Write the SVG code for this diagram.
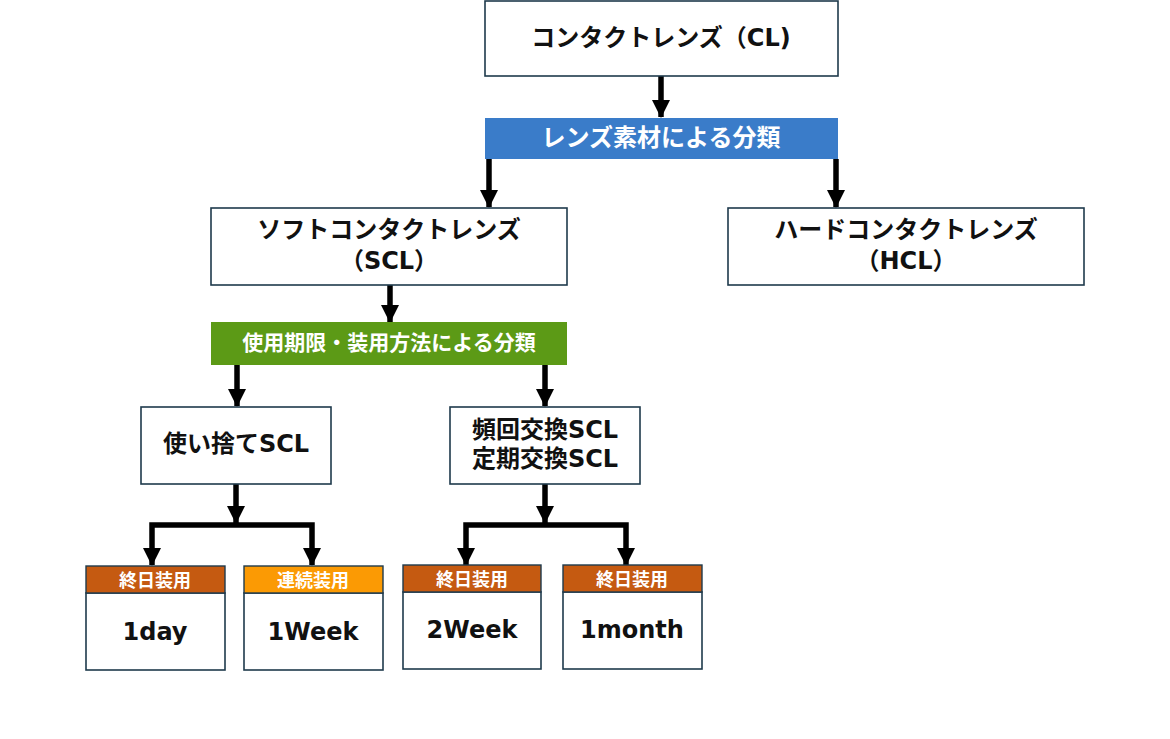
<svg xmlns="http://www.w3.org/2000/svg" width="1170" height="739" viewBox="0 0 1170 739">
<style>
.box{fill:#fff;stroke:#1f3a4c;stroke-width:1.6}
.t{font-family:"DejaVu Sans","Noto Sans CJK JP",sans-serif;font-weight:bold;fill:#111;text-anchor:middle;dominant-baseline:central}
.w{fill:#fff}
.ln{fill:none;stroke:#000;stroke-width:5.5;marker-end:url(#ah)}
.hb{fill:#c55a11;stroke:#1f3a4c;stroke-width:1.4}
.ho{fill:#fb9a04;stroke:#1f3a4c;stroke-width:1.4}
</style>
<defs>
<marker id="ah" markerUnits="userSpaceOnUse" markerWidth="18" markerHeight="18" viewBox="0 0 18 18" refX="17" refY="9" orient="auto">
<path d="M0 0L18 9L0 18Z" fill="#000"/>
</marker>
</defs>
<rect width="1170" height="739" fill="#fff"/>
<g id="connectors">
<path class="ln" d="M661 76V117"/>
<path class="ln" d="M489 159V207"/>
<path class="ln" d="M836 159V207"/>
<path class="ln" d="M390 285V322"/>
<path class="ln" d="M237 365V406"/>
<path class="ln" d="M545 365V406"/>
<path class="ln" d="M236 484V523"/>
<path class="ln" d="M236 525H152V565"/>
<path class="ln" d="M236 525H312V565"/>
<path class="ln" d="M545 484V523"/>
<path class="ln" d="M545 525H466V565"/>
<path class="ln" d="M545 525H626V565"/>
</g>
<g id="cl">
<rect class="box" x="485" y="1" width="353" height="75"/>
<text class="t" x="661" y="38" font-size="24">コンタクトレンズ（CL)</text>
</g>
<g id="material">
<rect x="485" y="118" width="353" height="41" fill="#3a7cc9"/>
<text class="t w" x="661" y="138" font-size="24">レンズ素材による分類</text>
</g>
<g id="scl">
<rect class="box" x="211" y="208" width="356" height="77"/>
<text class="t" x="389" y="230" font-size="24">ソフトコンタクトレンズ</text>
<text class="t" x="389" y="261" font-size="24">（SCL）</text>
</g>
<g id="hcl">
<rect class="box" x="728" y="208" width="356" height="77"/>
<text class="t" x="906" y="230" font-size="24">ハードコンタクトレンズ</text>
<text class="t" x="906" y="261" font-size="24">（HCL）</text>
</g>
<g id="usage">
<rect x="211" y="322" width="356" height="43" fill="#5c9a16"/>
<text class="t w" x="389" y="343" font-size="21">使用期限・装用方法による分類</text>
</g>
<g id="disposable">
<rect class="box" x="141" y="407" width="190" height="77"/>
<text class="t" x="236" y="444" font-size="24">使い捨てSCL</text>
</g>
<g id="frequent">
<rect class="box" x="450" y="407" width="190" height="77"/>
<text class="t" x="545" y="430" font-size="24">頻回交換SCL</text>
<text class="t" x="545" y="459" font-size="24">定期交換SCL</text>
</g>
<g id="day1">
<rect class="box" x="86" y="593" width="139" height="77"/>
<rect class="hb" x="86" y="566" width="139" height="27"/>
<text class="t w" x="155" y="580" font-size="18">終日装用</text>
<text class="t" x="155" y="632" font-size="24">1day</text>
</g>
<g id="week1">
<rect class="box" x="244" y="593" width="139" height="77"/>
<rect class="ho" x="244" y="566" width="139" height="27"/>
<text class="t w" x="313" y="580" font-size="18">連続装用</text>
<text class="t" x="313" y="632" font-size="24">1Week</text>
</g>
<g id="week2">
<rect class="box" x="403" y="592" width="138" height="77"/>
<rect class="hb" x="403" y="565" width="138" height="27"/>
<text class="t w" x="472" y="579" font-size="18">終日装用</text>
<text class="t" x="472" y="630" font-size="24">2Week</text>
</g>
<g id="month1">
<rect class="box" x="563" y="592" width="139" height="77"/>
<rect class="hb" x="563" y="565" width="139" height="27"/>
<text class="t w" x="632" y="579" font-size="18">終日装用</text>
<text class="t" x="632" y="630" font-size="24">1month</text>
</g>
</svg>
